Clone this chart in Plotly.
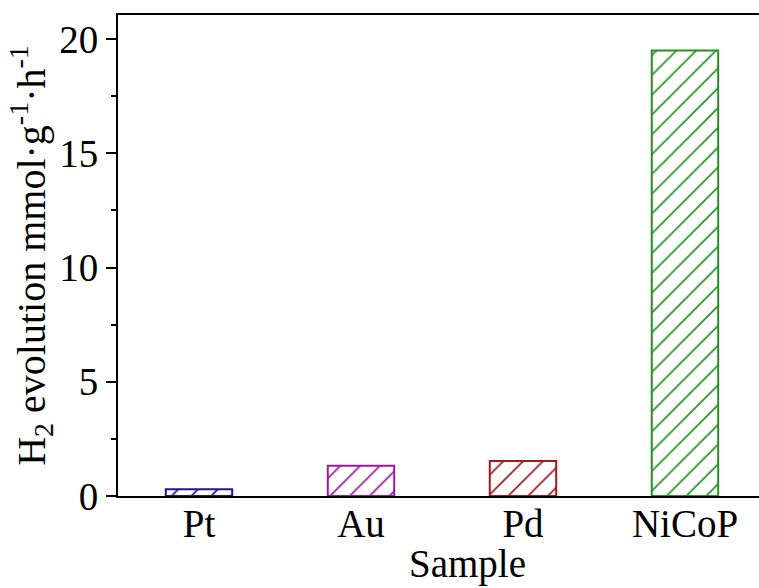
import plotly.graph_objects as go

samples = ["Pt", "Au", "Pd", "NiCoP"]
h2_rates = [0.30, 1.32, 1.53, 19.5]
bar_colors = ["#1b1b8c", "#9a1a9e", "#a01a1e", "#229322"]

FONT = "Liberation Serif, Times New Roman, serif"
FS = 39

fig = go.Figure()
fig.add_trace(go.Bar(
    x=samples,
    y=h2_rates,
    width=0.41,
    marker=dict(
        color="white",
        line=dict(color=bar_colors, width=2),
        pattern=dict(shape="/", fgcolor=bar_colors, fgopacity=1, bgcolor="white",
                     size=14, solidity=0.12, fillmode="overlay"),
    ),
    showlegend=False,
))

fig.update_layout(
    width=759, height=588,
    margin=dict(l=118, r=0, t=15, b=92),
    paper_bgcolor="white", plot_bgcolor="white",
    font=dict(family=FONT, size=FS, color="black"),
    annotations=[dict(
        text="Sample", xref="paper", yref="paper", x=0.546, y=-0.141,
        xanchor="center", yanchor="middle", showarrow=False,
        font=dict(family=FONT, size=FS, color="black"),
    )],
)
fig.update_xaxes(
    range=[-0.5, 3.457],
    showline=True, linecolor="black", linewidth=2, mirror=True,
    ticks="", showgrid=False, zeroline=False,
    ticklabelstandoff=-8,
    tickfont=dict(family=FONT, size=FS),
)
fig.update_yaxes(
    range=[0, 21.05],
    showline=True, linecolor="black", linewidth=2, mirror=False,
    ticks="outside", ticklen=10, tickwidth=2, tickcolor="black",
    tick0=0, dtick=5,
    minor=dict(ticks="outside", ticklen=5, tickwidth=2, tickcolor="black", dtick=2.5, showgrid=False),
    showgrid=False, zeroline=False,
    tickfont=dict(family=FONT, size=FS),
    title=dict(text="H<sub>2</sub> evolution mmol·g<sup>-1</sup>·h<sup>-1</sup>",
               font=dict(family=FONT, size=40), standoff=0),
)

fig.write_html("out.html")
